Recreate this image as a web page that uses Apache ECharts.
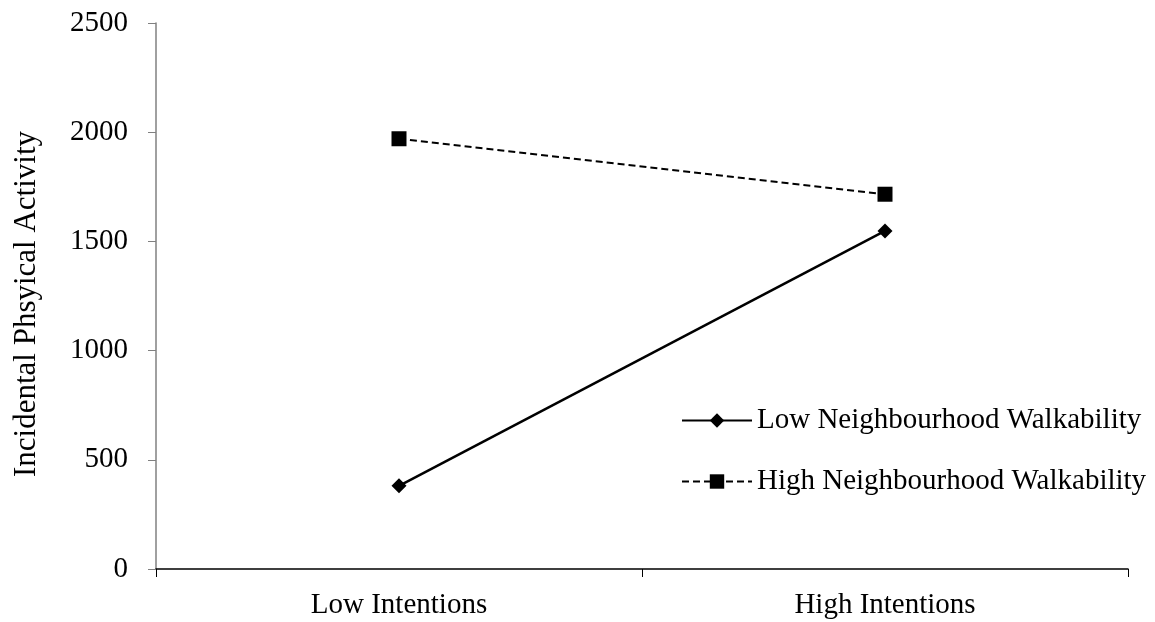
<!DOCTYPE html>
<html>
<head>
<meta charset="utf-8">
<script src="https://cdn.jsdelivr.net/npm/echarts@6/dist/echarts.min.js"></script>
<style>html,body{margin:0;padding:0;background:#fff}#c{width:1155px;height:622px}</style>
</head>
<body>
<div id="c"></div>
<script>
const categories = ['Low Intentions', 'High Intentions'];
const lowWalkability = [381, 1548];
const highWalkability = [1970, 1716];
const seriesNames = ['Low Neighbourhood Walkability', 'High Neighbourhood Walkability'];
const yAxisTitle = 'Incidental Phsyical Activity';

const FONT = '"Liberation Serif", "Times New Roman", serif';
const chart = echarts.init(document.getElementById('c'), null, {renderer: 'canvas'});
chart.setOption({
  animation: false,
  backgroundColor: '#fff',
  grid: {left: 156, right: 27, top: 23, bottom: 53, containLabel: false},
  legend: {
    orient: 'vertical', left: 676, top: 401, itemGap: 32,
    itemWidth: 70, itemHeight: 18,
    textStyle: {fontFamily: FONT, fontSize: 29, color: '#000'},
    data: seriesNames
  },
  xAxis: {
    type: 'category', data: categories, boundaryGap: true,
    axisLine: {lineStyle: {color: '#000', width: 1.5}},
    axisTick: {show: true, length: 8, lineStyle: {color: '#000'}},
    axisLabel: {fontFamily: FONT, fontSize: 29, color: '#000', margin: 22}
  },
  yAxis: {
    type: 'value', min: 0, max: 2500, interval: 500,
    name: yAxisTitle, nameLocation: 'middle', nameGap: 114,
    nameTextStyle: {fontFamily: FONT, fontSize: 31, color: '#000', padding: [0, 16, 0, 0]},
    axisLine: {show: true, lineStyle: {color: '#808080', width: 1.5}},
    axisTick: {show: true, length: 8, lineStyle: {color: '#808080'}},
    splitLine: {show: false},
    axisLabel: {fontFamily: FONT, fontSize: 29, color: '#000', margin: 28,
                formatter: function (v) { return String(v); }}
  },
  series: [
    {name: seriesNames[0], type: 'line', data: lowWalkability,
     symbol: 'diamond', symbolSize: 15,
     lineStyle: {color: '#000', width: 2.5, type: 'solid'},
     itemStyle: {color: '#000'}},
    {name: seriesNames[1], type: 'line', data: highWalkability,
     symbol: 'rect', symbolSize: 15,
     lineStyle: {color: '#000', width: 2, type: [7, 4]},
     itemStyle: {color: '#000'}}
  ]
});
</script>
</body>
</html>
